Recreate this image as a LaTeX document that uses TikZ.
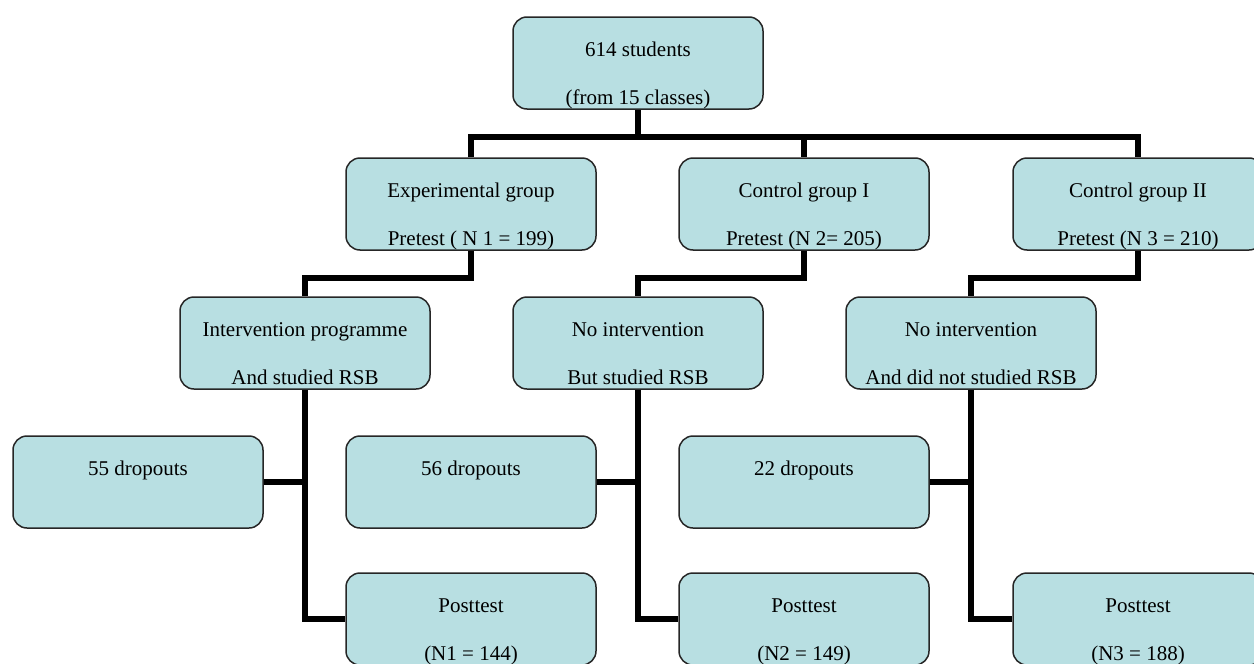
\documentclass[tikz,border=0pt]{standalone}
\usepackage{fontspec}
\setmainfont{Liberation Serif}
\definecolor{boxfill}{RGB}{184,223,226}
% first line high in the box, second line at the bottom
\newcommand{\twolines}[2]{\rule{0pt}{39pt}#1\\#2\rule[-5pt]{0pt}{5pt}}
\begin{document}
\begin{tikzpicture}[x=1pt, y=-1pt,
        box/.style={draw=black!85, line width=1.5pt, fill=boxfill, rounded corners=14pt,
            minimum width=250pt, minimum height=92pt, inner sep=0pt, align=center,
            font=\fontsize{21}{48}\selectfont},
        link/.style={line width=6pt}]
        \useasboundingbox (0, 0) rectangle (1254, 664);
        % all students
        \node[box] (all) at (638, 63) {\twolines{614 students}{(from 15 classes)}};
        % pretest groups
        \node[box] (exp) at (471, 204) {\twolines{Experimental group}{Pretest ( N 1 = 199)}};
        \node[box] (ctrlA) at (804, 204) {\twolines{Control group I}{Pretest (N 2= 205)}};
        \node[box] (ctrlB) at (1138, 204) {\twolines{Control group II}{Pretest (N 3 = 210)}};
        % treatment
        \node[box] (intv) at (305, 343) {\twolines{Intervention programme}{And studied RSB}};
        \node[box] (nointvA) at (638, 343) {\twolines{No intervention}{But studied RSB}};
        \node[box] (nointvB) at (971, 343) {\twolines{No intervention}{And did not studied RSB}};
        % dropouts
        \node[box] (dropA) at (138, 482) {\twolines{55 dropouts}{}};
        \node[box] (dropB) at (471, 482) {\twolines{56 dropouts}{}};
        \node[box] (dropC) at (804, 482) {\twolines{22 dropouts}{}};
        % posttest
        \node[box] (postA) at (471, 619) {\twolines{Posttest}{(N1 = 144)}};
        \node[box] (postB) at (804, 619) {\twolines{Posttest}{(N2 = 149)}};
        \node[box] (postC) at (1138, 619) {\twolines{Posttest}{(N3 = 188)}};
        % split of all students into the three groups
        \draw[link] (all.south) -- ++(0, 27) coordinate (bus);
        \draw[link] (exp.north) |- (bus) -| (ctrlB.north);
        \draw[link] (bus -| ctrlA.north) -- (ctrlA.north);
        % from pretest to treatment
        \draw[link] (exp.south) -- ++(0, 27) -| (intv.north);
        \draw[link] (ctrlA.south) -- ++(0, 27) -| (nointvA.north);
        \draw[link] (ctrlB.south) -- ++(0, 27) -| (nointvB.north);
        % from treatment to posttest and dropouts
        \draw[link] (intv.south) |- (postA.west);
        \draw[link] (intv.south) |- (dropA.east);
        \draw[link] (nointvA.south) |- (postB.west);
        \draw[link] (nointvA.south) |- (dropB.east);
        \draw[link] (nointvB.south) |- (postC.west);
        \draw[link] (nointvB.south) |- (dropC.east);
\end{tikzpicture}
\end{document}
